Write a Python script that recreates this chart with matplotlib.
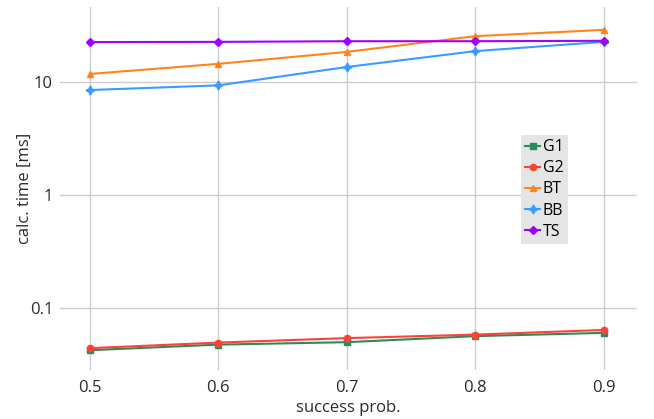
import matplotlib
matplotlib.use("Agg")
import matplotlib.pyplot as plt
from matplotlib.ticker import FixedLocator, NullLocator

plt.rcParams["font.family"] = ["Open Sans", "DejaVu Sans"]

# --- data ---
success_prob = [0.5, 0.6, 0.7, 0.8, 0.9]
g1 = [0.0422, 0.0473, 0.0497, 0.0562, 0.0601]
g2 = [0.0440, 0.0493, 0.0540, 0.0580, 0.0638]
bt = [11.8, 14.5, 18.5, 25.5, 29.0]
bb = [8.5, 9.35, 13.6, 18.8, 22.7]
ts = [22.6, 22.7, 23.0, 23.0, 23.2]

series = [
    ("G1", g1, "#2e8b57", "s", 4.5),
    ("G2", g2, "#ff4136", "o", 4.5),
    ("BT", bt, "#ff851b", "^", 4.5),
    ("BB", bb, "#3d9bff", (4, 1, 0), 6.5),
    ("TS", ts, "#a000ff", "D", 4.5),
]

fig = plt.figure(figsize=(6.54, 4.19), dpi=100)
ax = fig.add_axes([0.0917, 0.117, 0.882, 0.866])

for name, vals, col, mk, ms in series:
    ax.plot(success_prob, vals, color=col, marker=mk, markersize=ms,
            linewidth=1.5, label=name)

ax.set_yscale("log")
ax.set_xlim(0.4767, 0.9257)
ax.set_ylim(0.0282, 46.1)
ax.set_xticks(success_prob)
ax.set_xticklabels(["0.5", "0.6", "0.7", "0.8", "0.9"])
ax.yaxis.set_major_locator(FixedLocator([0.1, 1, 10]))
ax.yaxis.set_minor_locator(NullLocator())
ax.set_yticklabels(["0.1", "1", "10"])

ax.grid(True, color="#cccccc", linewidth=1)
ax.set_axisbelow(True)
for s in ax.spines.values():
    s.set_visible(False)
ax.tick_params(length=0, labelsize=12, labelcolor="#2a2a2a")
ax.tick_params(axis="x", pad=7)
ax.tick_params(axis="y", pad=5)

ax.set_xlabel("success prob.", fontsize=12, color="#2a2a2a", labelpad=3)
ax.set_ylabel("calc. time [ms]", fontsize=12, color="#2a2a2a", labelpad=-2)

leg = ax.legend(loc="upper left", bbox_to_anchor=(0.8, 0.647), frameon=True,
                fancybox=False, fontsize=11.5, handlelength=0.9,
                handletextpad=0.2, borderpad=0.25, labelspacing=0.32,
                borderaxespad=0)
leg.get_frame().set_facecolor("#e5e5e5")
leg.get_frame().set_edgecolor("none")
leg.get_frame().set_alpha(1)

plt.savefig("out.png", dpi=100)
plt.close()
